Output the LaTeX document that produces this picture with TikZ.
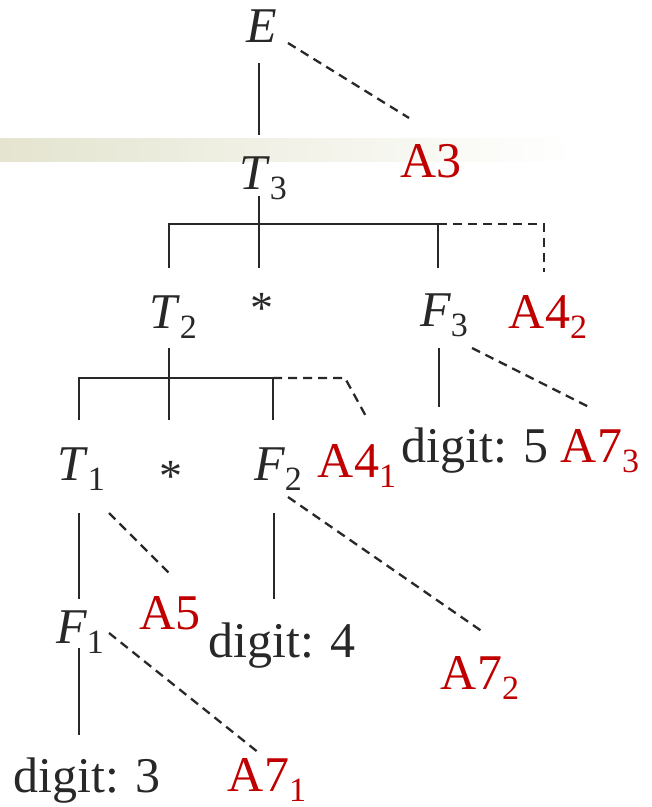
\documentclass[tikz,border=0pt]{standalone}
\usepackage{fontspec}
\setmainfont{Liberation Serif}
\definecolor{inkgray}{RGB}{40,40,40}
\definecolor{actred}{RGB}{192,0,0}
\definecolor{barolive}{RGB}{228,228,208}
\newcommand{\sbs}[1]{\raisebox{-10pt}{\fontsize{34}{34}\selectfont #1}}
\begin{document}
\begin{tikzpicture}[x=1pt, y=-1pt,
    sym/.style={inner sep=0pt, anchor=base, text=inkgray, font=\fontsize{50}{50}\selectfont},
    actn/.style={sym, text=actred},
    solidln/.style={draw=inkgray, line width=2.7pt},
    dashln/.style={draw=inkgray, line width=2.3pt, dash pattern=on 9pt off 6pt}]
    \useasboundingbox (0,0) rectangle (652,807);
    % the shaded strip behind T3
    \shade[left color=barolive, right color=white, draw=none] (0,138) rectangle (575,161);

    % symbols of the parse tree
    \node[sym] (E) at (262,42) {\textit{E}};
    \node[sym] (T3) at (263,189) {\textit{T}\sbs{3}};
    \node[sym] (T2) at (173,328) {\textit{T}\sbs{2}};
    \node[sym] (star2) at (262,328) {\raisebox{5pt}{\fontsize{46}{46}\selectfont *}};
    \node[sym] (F3) at (444,326) {\textit{F}\sbs{3}};
    \node[sym] (T1) at (81,480) {\textit{T}\sbs{1}};
    \node[sym] (star1) at (171,480) {\raisebox{-11pt}{\fontsize{46}{46}\selectfont *}};
    \node[sym] (F2) at (278,480) {\textit{F}\sbs{2}};
    \node[sym] (digit5) at (475,462) {digit: 5};
    \node[sym] (F1) at (80,643) {\textit{F}\sbs{1}};
    \node[sym] (digit4) at (282,657) {digit: 4};
    \node[sym] (digit3) at (87,792) {digit: 3};

    % semantic actions
    \node[actn] (A3) at (431,177) {A3};
    \node[actn] (A42) at (548,328) {A4\sbs{2}};
    \node[actn] (A41) at (357,477) {A4\sbs{1}};
    \node[actn] (A73) at (600,462) {A7\sbs{3}};
    \node[actn] (A5) at (170,629) {A5};
    \node[actn] (A72) at (480,689) {A7\sbs{2}};
    \node[actn] (A71) at (267,791) {A7\sbs{1}};

    % tree edges
    \draw[solidln] ([shift={(-3,21)}]E.base) -- ([shift={(-4,-54)}]T3.base);
    \draw[solidln] ([shift={(-4,7)}]T3.base) -- ([shift={(-3,-60)}]star2.base);
    \draw[solidln] ([shift={(-4,-60)}]T2.base) |- ([shift={(-6,-102)}]F3.base) -- ([shift={(-6,-58)}]F3.base);
    \draw[solidln] ([shift={(-4,20)}]T2.base) -- ([shift={(-2,-60)}]star1.base);
    \draw[solidln] ([shift={(-2,-60)}]T1.base) |- ([shift={(-5,-102)}]F2.base) -- ([shift={(-5,-60)}]F2.base);
    \draw[solidln] ([shift={(-5,22)}]F3.base) -- ([shift={(-36,-55)}]digit5.base);
    \draw[solidln] ([shift={(-2,33)}]T1.base) -- ([shift={(-1,-44)}]F1.base);
    \draw[solidln] ([shift={(-4,33)}]F2.base) -- ([shift={(-8,-58)}]digit4.base);
    \draw[solidln] ([shift={(-1,5)}]F1.base) -- ([shift={(-8,-57)}]digit3.base);

    % links to actions
    \draw[dashln] ([shift={(26,1)}]E.base) -- ([shift={(-22,-59)}]A3.base);
    \draw[dashln] ([shift={(-6,-102)}]F3.base) -| ([shift={(-4,-56)}]A42.base);
    \draw[dashln] ([shift={(-5,-102)}]F2.base) -- ([shift={(-12,-99)}]A41.base) -- ([shift={(11,-57)}]A41.base);
    \draw[dashln] ([shift={(28,22)}]F3.base) -- ([shift={(-11,-55)}]A73.base);
    \draw[dashln] ([shift={(28,33)}]T1.base) -- ([shift={(-1,-56)}]A5.base);
    \draw[dashln] ([shift={(10,17)}]F2.base) -- ([shift={(3,-57)}]A72.base);
    \draw[dashln] ([shift={(29,-10)}]F1.base) -- ([shift={(-8,-38)}]A71.base);
\end{tikzpicture}
\end{document}
